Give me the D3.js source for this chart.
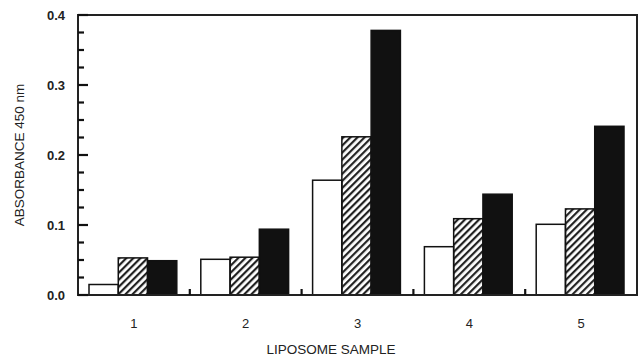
<!DOCTYPE html>
<html>
<head>
<meta charset="utf-8">
<script src="https://cdn.jsdelivr.net/npm/d3@7/dist/d3.min.js"></script>
<style>
  html, body { margin: 0; padding: 0; background: #fff; overflow: hidden; }
  svg { display: block; }
  svg text { font-family: "Liberation Sans", Arial, sans-serif; fill: #222; }
</style>
</head>
<body>
<svg id="chart"></svg>
<script>
const samples = ['1', '2', '3', '4', '5'];
const series = ['open', 'hatched', 'solid'];
const openValues = [0.015, 0.051, 0.164, 0.069, 0.101];
const hatchedValues = [0.053, 0.054, 0.226, 0.109, 0.123];
const solidValues = [0.049, 0.094, 0.378, 0.144, 0.241];
const yTicks = [0.0, 0.1, 0.2, 0.3, 0.4];
const yMinorTicks = [0.025, 0.05, 0.075, 0.125, 0.15, 0.175, 0.225, 0.25, 0.275, 0.325, 0.35, 0.375];

const width = 638, height = 360;
const margin = { top: 15, right: 1, bottom: 65, left: 78 };

const svg = d3.select('#chart')
  .attr('width', width)
  .attr('height', height);

const innerWidth = width - margin.left - margin.right;
const innerHeight = height - margin.top - margin.bottom;

const defs = svg.append('defs');
defs.append('pattern')
  .attr('id', 'hatch')
  .attr('patternUnits', 'userSpaceOnUse')
  .attr('width', 5)
  .attr('height', 5)
  .attr('patternTransform', 'rotate(45)')
  .append('rect')
  .attr('width', 2.2)
  .attr('height', 5)
  .attr('fill', '#222');

const x0 = d3.scaleBand()
  .domain(samples)
  .range([0, innerWidth])
  .paddingInner(0)
  .paddingOuter(0);

const x1 = d3.scaleBand()
  .domain(series)
  .range([11, x0.bandwidth() - 13])
  .padding(0);

const y = d3.scaleLinear()
  .domain([0, 0.4])
  .range([innerHeight, 0]);

const g = svg.append('g')
  .attr('transform', `translate(${margin.left}, ${margin.top})`);

const rows = samples.map((s, i) => ({
  sample: s,
  values: [
    { key: 'open', value: openValues[i] },
    { key: 'hatched', value: hatchedValues[i] },
    { key: 'solid', value: solidValues[i] }
  ]
}));

const fills = { open: '#fff', hatched: 'url(#hatch)', solid: '#111' };

g.selectAll('.group')
  .data(rows)
  .enter()
  .append('g')
  .attr('class', 'group')
  .attr('transform', d => `translate(${x0(d.sample)}, 0)`)
  .selectAll('rect')
  .data(d => d.values)
  .enter()
  .append('rect')
  .attr('x', d => x1(d.key))
  .attr('y', d => y(d.value))
  .attr('width', x1.bandwidth())
  .attr('height', d => innerHeight - y(d.value))
  .attr('fill', d => fills[d.key])
  .attr('stroke', '#111')
  .attr('stroke-width', 1.5);

// frame
g.append('rect')
  .attr('x', 0)
  .attr('y', 0)
  .attr('width', innerWidth)
  .attr('height', innerHeight)
  .attr('fill', 'none')
  .attr('stroke', '#222')
  .attr('stroke-width', 2);

// inward ticks on the left axis
const tickData = yTicks.map(v => ({ v, len: 10 })).concat(yMinorTicks.map(v => ({ v, len: 6 })));
g.append('g')
  .attr('class', 'inner-ticks')
  .selectAll('path')
  .data(tickData)
  .enter()
  .append('path')
  .attr('d', d => `M0,${y(d.v)}H${d.len}`)
  .attr('stroke', '#111')
  .attr('stroke-width', 2.2)
  .attr('fill', 'none');

const yAxis = g.append('g')
  .call(d3.axisLeft(y).tickValues(yTicks).tickFormat(d3.format('.1f')).tickSize(0).tickPadding(13));
yAxis.select('.domain').remove();
yAxis.selectAll('text').attr('font-size', 13).attr('font-weight', 'bold').attr('fill', '#333');

// small upward ticks on the baseline between the sample groups
g.append('g')
  .selectAll('path')
  .data(samples.slice(1))
  .enter()
  .append('path')
  .attr('d', d => `M${x0(d)},${innerHeight}V${innerHeight - 6}`)
  .attr('stroke', '#111')
  .attr('stroke-width', 2.2)
  .attr('fill', 'none');

const xAxis = g.append('g')
  .attr('transform', `translate(0, ${innerHeight})`)
  .call(d3.axisBottom(x0).tickSize(0).tickPadding(24));
xAxis.select('.domain').remove();
xAxis.selectAll('text').attr('font-size', 13).attr('fill', '#333');

svg.append('text')
  .attr('transform', `translate(24, ${margin.top + innerHeight / 2}) rotate(-90)`)
  .attr('text-anchor', 'middle')
  .attr('font-size', 13.5)
  .text('ABSORBANCE 450 nm');

svg.append('text')
  .attr('x', 331)
  .attr('y', 354)
  .attr('text-anchor', 'middle')
  .attr('font-size', 13.5)
  .text('LIPOSOME SAMPLE');
</script>
</body>
</html>
